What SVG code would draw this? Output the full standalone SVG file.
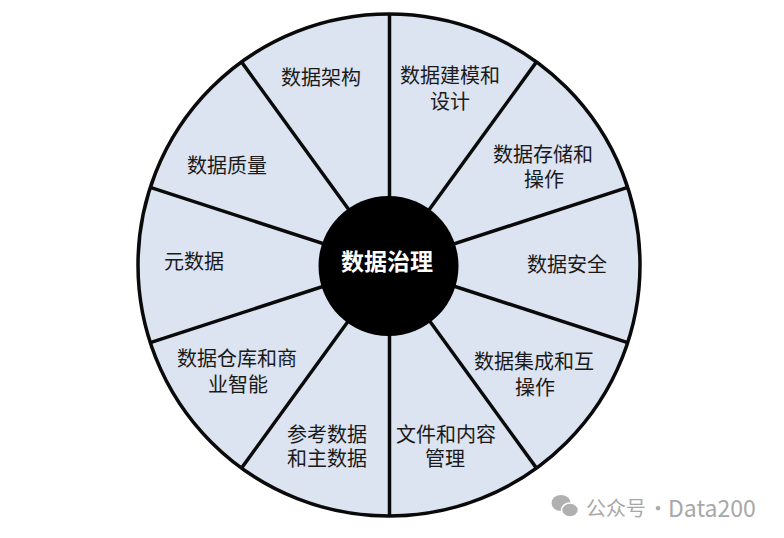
<svg xmlns="http://www.w3.org/2000/svg" width="784" height="538" viewBox="0 0 784 538">
<style>
.lbl{font-family:"Noto Sans CJK SC","Noto Sans",sans-serif;font-size:20px;fill:#1a1a1a;text-anchor:middle;dominant-baseline:central}
.hubt{font-family:"Noto Sans CJK SC","Noto Sans",sans-serif;font-size:23px;font-weight:bold;fill:#ffffff;text-anchor:middle;dominant-baseline:central}
.spoke{stroke:#0a0a0a;stroke-width:3.5}
.wm{font-family:"Noto Sans CJK SC","Noto Sans",sans-serif;font-size:20px;fill:#a8a8a8;dominant-baseline:central}
</style>
<rect width="784" height="538" fill="#ffffff"/>
<g id="wheel"><circle cx="389" cy="265" r="251" fill="#dce3f1" stroke="#0a0a0a" stroke-width="3.5"/></g>
<g id="connectors">
<line class="spoke" x1="389" y1="265" x2="627.7" y2="187.4"/>
<line class="spoke" x1="389" y1="265" x2="536.5" y2="61.9"/>
<line class="spoke" x1="389.5" y1="265" x2="389.5" y2="14"/>
<line class="spoke" x1="389" y1="265" x2="241.5" y2="61.9"/>
<line class="spoke" x1="389" y1="265" x2="150.3" y2="187.4"/>
<line class="spoke" x1="389" y1="265" x2="150.3" y2="342.6"/>
<line class="spoke" x1="389" y1="265" x2="241.5" y2="468.1"/>
<line class="spoke" x1="389.5" y1="265" x2="389.5" y2="516"/>
<line class="spoke" x1="389" y1="265" x2="536.5" y2="468.1"/>
<line class="spoke" x1="389" y1="265" x2="627.7" y2="342.6"/>
</g>
<g id="hub"><circle cx="388.5" cy="266" r="70" fill="#000000"/><text class="hubt" x="387" y="260">数据治理</text></g>
<g id="n-arch"><text class="lbl" x="321" y="76">数据架构</text></g>
<g id="n-model"><text class="lbl" x="450" y="74">数据建模和</text><text class="lbl" x="450" y="100">设计</text></g>
<g id="n-storage"><text class="lbl" x="543" y="153">数据存储和</text><text class="lbl" x="544" y="178">操作</text></g>
<g id="n-security"><text class="lbl" x="567" y="263">数据安全</text></g>
<g id="n-integration"><text class="lbl" x="534" y="360">数据集成和互</text><text class="lbl" x="535" y="386">操作</text></g>
<g id="n-content"><text class="lbl" x="446" y="433">文件和内容</text><text class="lbl" x="445" y="457">管理</text></g>
<g id="n-master"><text class="lbl" x="327" y="433">参考数据</text><text class="lbl" x="327" y="457">和主数据</text></g>
<g id="n-dw"><text class="lbl" x="237" y="357">数据仓库和商</text><text class="lbl" x="238" y="383">业智能</text></g>
<g id="n-meta"><text class="lbl" x="194" y="260">元数据</text></g>
<g id="n-quality"><text class="lbl" x="227" y="164">数据质量</text></g>
<g id="watermark">
<ellipse cx="561" cy="503" rx="9.5" ry="8" fill="#b0b0b0"/>
<ellipse cx="570" cy="510" rx="8.5" ry="7" fill="#b0b0b0" stroke="#ffffff" stroke-width="1.5"/>
<text class="wm" x="586" y="507">公众号</text>
<text class="wm" x="658" y="507" text-anchor="middle">·</text>
<text class="wm" x="668" y="507" style="font-size:23px">Data200</text>
</g>
</svg>
